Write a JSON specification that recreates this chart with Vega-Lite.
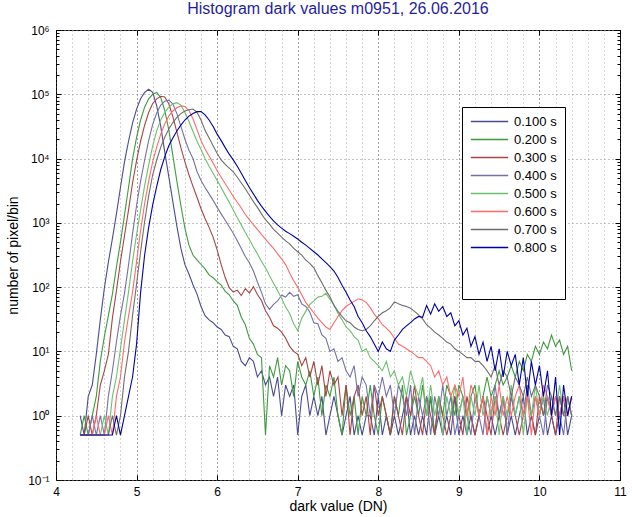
{
"$schema": "https://vega.github.io/schema/vega-lite/v6.json",
"width": 564, "height": 450,
"autosize": {"type": "none"},
"padding": {"left": 56, "top": 30, "right": 12, "bottom": 37},
"background": "white",
"config": {"font": "Liberation Sans", "view": {"stroke": "#000", "strokeWidth": 1}},
"title": {"text": "Histogram dark values m0951, 26.06.2016", "fontSize": 16, "fontWeight": "normal", "color": "#1f1f9f", "offset": 7, "font": "Liberation Sans"},
"data": {"values": [
{"x":4.30,"a":1,"b":0.5,"c":0.5,"d":0.5,"e":0.5,"f":0.5,"g":0.5,"h":0.5},
{"x":4.35,"a":0.5,"b":1,"c":0.5,"d":0.5,"e":0.5,"f":0.5,"g":0.5,"h":0.5},
{"x":4.40,"a":2,"b":0.5,"c":1,"d":0.5,"e":0.5,"f":0.5,"g":0.5,"h":0.5},
{"x":4.45,"a":3,"b":1,"c":0.5,"d":1,"e":0.5,"f":0.5,"g":0.5,"h":0.5},
{"x":4.50,"a":9,"b":2,"c":1,"d":0.5,"e":0.5,"f":1,"g":0.5,"h":0.5},
{"x":4.55,"a":31,"b":7,"c":3,"d":1,"e":0.5,"f":0.5,"g":0.5,"h":0.5},
{"x":4.60,"a":96,"b":17,"c":5,"d":0.5,"e":1,"f":0.5,"g":0.5,"h":0.5},
{"x":4.65,"a":245,"b":36,"c":9,"d":2,"e":0.5,"f":1,"g":0.5,"h":0.5},
{"x":4.70,"a":570,"b":78,"c":33,"d":5,"e":2,"f":0.5,"g":1,"h":0.5},
{"x":4.75,"a":1380,"b":205,"c":88,"d":14,"e":4,"f":2,"g":0.5,"h":1},
{"x":4.80,"a":3550,"b":500,"c":250,"d":36,"e":11,"f":4,"g":1,"h":0.5},
{"x":4.85,"a":8900,"b":1320,"c":630,"d":80,"e":31,"f":14,"g":4,"h":1},
{"x":4.90,"a":18600,"b":3550,"c":1580,"d":220,"e":84,"f":35,"g":10,"h":2},
{"x":4.95,"a":35500,"b":9800,"c":4170,"d":680,"e":250,"f":83,"g":36,"h":4},
{"x":5.00,"a":58900,"b":21400,"c":9300,"d":1860,"e":660,"f":250,"g":112,"h":13},
{"x":5.05,"a":85000,"b":39800,"c":18600,"d":4470,"e":1580,"f":760,"g":355,"h":83},
{"x":5.10,"a":107000,"b":63000,"c":33000,"d":9500,"e":3800,"f":2000,"g":1050,"h":316},
{"x":5.15,"a":120000,"b":85000,"c":52000,"d":19000,"e":7900,"f":4470,"g":2630,"h":850},
{"x":5.20,"a":107000,"b":100000,"c":72000,"d":34000,"e":15800,"f":8900,"g":5600,"h":1900},
{"x":5.25,"a":66000,"b":107000,"c":85000,"d":51000,"e":27000,"f":15100,"g":9500,"h":3700},
{"x":5.30,"a":31600,"b":89000,"c":93000,"d":68000,"e":40000,"f":24000,"g":15100,"h":6760},
{"x":5.35,"a":12600,"b":56000,"c":91000,"d":78000,"e":52000,"f":34700,"g":21400,"h":10700},
{"x":5.40,"a":5250,"b":28000,"c":71000,"d":81000,"e":63000,"f":45700,"g":28800,"h":15800},
{"x":5.45,"a":2140,"b":11200,"c":45000,"d":71000,"e":71000,"f":55000,"g":36300,"h":20900},
{"x":5.50,"a":890,"b":4470,"c":26000,"d":50000,"e":74000,"f":61700,"g":43600,"h":26900},
{"x":5.55,"a":400,"b":1860,"c":14800,"d":31600,"e":68000,"f":66000,"g":50000,"h":33100},
{"x":5.60,"a":224,"b":830,"c":8900,"d":20000,"e":52000,"f":64600,"g":55000,"h":39800},
{"x":5.65,"a":160,"b":450,"c":5600,"d":13500,"e":38000,"f":56000,"g":57500,"h":45700},
{"x":5.70,"a":109,"b":316,"c":3700,"d":10000,"e":26300,"f":41700,"g":58900,"h":50100},
{"x":5.75,"a":78,"b":265,"c":2500,"d":6300,"e":18600,"f":28200,"g":52500,"h":53700},
{"x":5.80,"a":50,"b":225,"c":1660,"d":4570,"e":13800,"f":19000,"g":39800,"h":53700},
{"x":5.85,"a":36,"b":192,"c":1170,"d":3550,"e":10000,"f":14100,"g":27500,"h":47900},
{"x":5.90,"a":31,"b":155,"c":850,"d":2820,"e":7600,"f":11000,"g":20900,"h":39800},
{"x":5.95,"a":28,"b":140,"c":600,"d":2240,"e":5900,"f":8500,"g":15800,"h":31600},
{"x":6.00,"a":24,"b":122,"c":380,"d":1740,"e":4570,"f":6460,"g":12000,"h":24000},
{"x":6.05,"a":22,"b":108,"c":224,"d":1380,"e":3550,"f":5130,"g":9550,"h":19000},
{"x":6.10,"a":18,"b":86,"c":141,"d":1100,"e":2700,"f":4070,"g":8100,"h":14800},
{"x":6.15,"a":17,"b":76,"c":98,"d":870,"e":2090,"f":3240,"g":7100,"h":11700},
{"x":6.20,"a":12,"b":61,"c":84,"d":690,"e":1580,"f":2570,"g":6200,"h":9550},
{"x":6.25,"a":11,"b":52,"c":90,"d":525,"e":1200,"f":2090,"g":5130,"h":7590},
{"x":6.30,"a":7,"b":34,"c":74,"d":400,"e":930,"f":1700,"g":4170,"h":5890},
{"x":6.35,"a":6,"b":26,"c":95,"d":300,"e":710,"f":1350,"g":3390,"h":4570},
{"x":6.40,"a":8,"b":16,"c":81,"d":240,"e":550,"f":1120,"g":2690,"h":3550},
{"x":6.45,"a":7,"b":13,"c":102,"d":178,"e":420,"f":930,"g":2140,"h":2820},
{"x":6.50,"a":4,"b":9,"c":77,"d":120,"e":330,"f":790,"g":1740,"h":2240},
{"x":6.55,"a":5,"b":8,"c":62,"d":83,"e":250,"f":660,"g":1380,"h":1820},
{"x":6.60,"a":3,"b":0.5,"c":43,"d":55,"e":200,"f":560,"g":1120,"h":1510},
{"x":6.65,"a":4,"b":6,"c":34,"d":45,"e":150,"f":470,"g":955,"h":1260},
{"x":6.70,"a":2,"b":4,"c":25,"d":54,"e":115,"f":400,"g":790,"h":1070},
{"x":6.75,"a":4,"b":8,"c":23,"d":61,"e":88,"f":330,"g":690,"h":930},
{"x":6.80,"a":1,"b":3,"c":20,"d":75,"e":67,"f":275,"g":600,"h":830},
{"x":6.85,"a":3,"b":6,"c":16,"d":70,"e":49,"f":224,"g":525,"h":740},
{"x":6.90,"a":2,"b":5,"c":12,"d":83,"e":39,"f":166,"g":470,"h":680},
{"x":6.95,"a":3,"b":2,"c":10,"d":72,"e":27,"f":126,"g":400,"h":620},
{"x":7.00,"a":0.5,"b":7,"c":9,"d":76,"e":21,"f":100,"g":355,"h":560},
{"x":7.05,"a":2,"b":4,"c":6,"d":55,"e":33,"f":76,"g":316,"h":500},
{"x":7.10,"a":3,"b":3,"c":8,"d":50,"e":42,"f":58,"g":263,"h":450},
{"x":7.15,"a":1,"b":5,"c":4,"d":41,"e":54,"f":48,"g":234,"h":400},
{"x":7.20,"a":2,"b":2,"c":7,"d":28,"e":61,"f":40,"g":200,"h":355},
{"x":7.25,"a":1,"b":4,"c":3,"d":27,"e":70,"f":33,"g":151,"h":316},
{"x":7.30,"a":2,"b":1,"c":6,"d":18,"e":72,"f":28,"g":117,"h":275},
{"x":7.35,"a":0.5,"b":3,"c":2,"d":16,"e":80,"f":24,"g":89,"h":240},
{"x":7.40,"a":1,"b":2,"c":5,"d":10,"e":65,"f":22,"g":71,"h":209},
{"x":7.45,"a":2,"b":4,"c":3,"d":11,"e":53,"f":28,"g":52,"h":178},
{"x":7.50,"a":1,"b":1,"c":4,"d":7,"e":39,"f":35,"g":42,"h":141},
{"x":7.55,"a":0.5,"b":0.5,"c":1,"d":8,"e":31,"f":43,"g":35,"h":107},
{"x":7.60,"a":1,"b":3,"c":3,"d":5,"e":24,"f":50,"g":30,"h":83},
{"x":7.65,"a":2,"b":1,"c":0.5,"d":4,"e":21,"f":55,"g":28,"h":63},
{"x":7.70,"a":0.5,"b":2,"c":2,"d":6,"e":17,"f":60,"g":24,"h":50},
{"x":7.75,"a":1,"b":0.5,"c":3,"d":2,"e":15,"f":66,"g":22,"h":35},
{"x":7.80,"a":0.5,"b":2,"c":1,"d":4,"e":10,"f":63,"g":21,"h":28},
{"x":7.85,"a":1,"b":1,"c":2,"d":3,"e":11,"f":58,"g":22,"h":21},
{"x":7.90,"a":1,"b":3,"c":0.5,"d":1,"e":8,"f":48,"g":25,"h":17},
{"x":7.95,"a":0.5,"b":1,"c":3,"d":3,"e":7,"f":38,"g":30,"h":13},
{"x":8.00,"a":2,"b":0.5,"c":1,"d":2,"e":6,"f":32,"g":35,"h":10},
{"x":8.05,"a":0.5,"b":2,"c":2,"d":4,"e":5,"f":26,"g":40,"h":14},
{"x":8.10,"a":1,"b":1,"c":1,"d":2,"e":7,"f":23,"g":43,"h":11},
{"x":8.15,"a":0.5,"b":0.5,"c":0.5,"d":3,"e":4,"f":20,"g":48,"h":10},
{"x":8.20,"a":1,"b":2,"c":2,"d":1,"e":5,"f":16,"g":59,"h":15},
{"x":8.25,"a":0.5,"b":1,"c":1,"d":3,"e":3,"f":13,"g":55,"h":18},
{"x":8.30,"a":1,"b":3,"c":0.5,"d":2,"e":4,"f":12,"g":52,"h":22},
{"x":8.35,"a":2,"b":0.5,"c":2,"d":1,"e":2,"f":11,"g":50,"h":25},
{"x":8.40,"a":0.5,"b":1,"c":1,"d":3,"e":5,"f":10,"g":47,"h":28},
{"x":8.45,"a":1,"b":2,"c":3,"d":0.5,"e":3,"f":9,"g":42,"h":32},
{"x":8.50,"a":0.5,"b":1,"c":1,"d":2,"e":2,"f":8,"g":37,"h":35},
{"x":8.55,"a":1,"b":3,"c":0.5,"d":1,"e":4,"f":8,"g":32,"h":34},
{"x":8.60,"a":0.5,"b":1,"c":2,"d":2,"e":1,"f":7,"g":26,"h":52},
{"x":8.65,"a":2,"b":2,"c":1,"d":0.5,"e":3,"f":6,"g":23,"h":38},
{"x":8.70,"a":0.5,"b":0.5,"c":0.5,"d":2,"e":1,"f":4,"g":20,"h":55},
{"x":8.75,"a":1,"b":2,"c":2,"d":1,"e":2,"f":5,"g":18,"h":42},
{"x":8.80,"a":0.5,"b":1,"c":1,"d":3,"e":0.5,"f":3,"g":16,"h":50},
{"x":8.85,"a":1,"b":3,"c":0.5,"d":1,"e":2,"f":4,"g":14,"h":35},
{"x":8.90,"a":0.5,"b":2,"c":1,"d":2,"e":1,"f":2,"g":13,"h":40},
{"x":8.95,"a":2,"b":1,"c":2,"d":0.5,"e":3,"f":3,"g":11,"h":25},
{"x":9.00,"a":0.5,"b":3,"c":1,"d":1,"e":1,"f":2,"g":10,"h":30},
{"x":9.05,"a":1,"b":2,"c":0.5,"d":2,"e":2,"f":4,"g":9,"h":18},
{"x":9.10,"a":0.5,"b":1,"c":2,"d":1,"e":0.5,"f":1,"g":8,"h":23},
{"x":9.15,"a":1,"b":2,"c":1,"d":0.5,"e":2,"f":3,"g":8,"h":12},
{"x":9.20,"a":0.5,"b":3,"c":0.5,"d":2,"e":1,"f":2,"g":7,"h":17},
{"x":9.25,"a":1,"b":1,"c":1,"d":1,"e":3,"f":1,"g":7,"h":9},
{"x":9.30,"a":2,"b":2,"c":2,"d":0.5,"e":1,"f":2,"g":6,"h":14},
{"x":9.35,"a":0.5,"b":4,"c":1,"d":2,"e":2,"f":0.5,"g":5,"h":7},
{"x":9.40,"a":1,"b":2,"c":0.5,"d":1,"e":1,"f":2,"g":4,"h":12},
{"x":9.45,"a":0.5,"b":3,"c":2,"d":3,"e":2,"f":1,"g":6,"h":5},
{"x":9.50,"a":1,"b":5,"c":1,"d":1,"e":0.5,"f":3,"g":3,"h":11},
{"x":9.55,"a":2,"b":3,"c":0.5,"d":2,"e":2,"f":1,"g":5,"h":4},
{"x":9.60,"a":0.5,"b":4,"c":1,"d":0.5,"e":1,"f":2,"g":4,"h":10},
{"x":9.65,"a":1,"b":6,"c":2,"d":2,"e":3,"f":1,"g":2,"h":6},
{"x":9.70,"a":0.5,"b":4,"c":1,"d":1,"e":1,"f":2,"g":4,"h":9},
{"x":9.75,"a":1,"b":7,"c":0.5,"d":2,"e":2,"f":3,"g":3,"h":3},
{"x":9.80,"a":2,"b":5,"c":1,"d":1,"e":0.5,"f":1,"g":2,"h":8},
{"x":9.85,"a":0.5,"b":9,"c":2,"d":3,"e":2,"f":2,"g":4,"h":2},
{"x":9.90,"a":1,"b":7,"c":1,"d":1,"e":1,"f":0.5,"g":2,"h":7},
{"x":9.95,"a":0.5,"b":12,"c":0.5,"d":2,"e":3,"f":2,"g":3,"h":3},
{"x":10.00,"a":1,"b":9,"c":2,"d":1,"e":1,"f":1,"g":2,"h":6},
{"x":10.05,"a":2,"b":14,"c":1,"d":0.5,"e":2,"f":3,"g":1,"h":2},
{"x":10.10,"a":0.5,"b":11,"c":2,"d":2,"e":1,"f":2,"g":3,"h":5},
{"x":10.15,"a":1,"b":18,"c":1,"d":1,"e":2,"f":1,"g":2,"h":1},
{"x":10.20,"a":0.5,"b":12,"c":0.5,"d":2,"e":1,"f":2,"g":1,"h":4},
{"x":10.25,"a":1,"b":15,"c":2,"d":1,"e":3,"f":1,"g":2,"h":0.5},
{"x":10.30,"a":2,"b":9,"c":1,"d":0.5,"e":1,"f":2,"g":1,"h":3},
{"x":10.35,"a":0.5,"b":12,"c":1,"d":2,"e":2,"f":1,"g":2,"h":1},
{"x":10.40,"a":1,"b":5,"c":2,"d":1,"e":1,"f":2,"g":1,"h":2}
]},
"transform": [{"fold": ["a","b","c","d","e","f","g","h"], "as": ["series","count"]}],
"layer": [
{"mark": {"type": "line", "strokeWidth": 1.1},
 "encoding": {
  "x": {"field": "x", "type": "quantitative",
        "scale": {"domain": [4, 11], "nice": false, "zero": false},
        "axis": {"values": [4,4.2,4.4,4.6,4.8,5,5.2,5.4,5.6,5.8,6,6.2,6.4,6.6,6.8,7,7.2,7.4,7.6,7.8,8,8.2,8.4,8.6,8.8,9,9.2,9.4,9.6,9.8,10,10.2,10.4,10.6,10.8,11],
                 "labelExpr": "datum.value == round(datum.value) ? format(datum.value, 'd') : ''",
                 "title": "dark value (DN)", "titleFontSize": 14, "titleFontWeight": "normal", "titleColor": "#000", "titlePadding": 2,
                 "labelFontSize": 12, "labelColor": "#000", "labelPadding": 11, "labelFlush": false, "labelOverlap": false,
                 "tickSize": -5, "tickColor": "#000",
                 "tickOpacity": {"condition": {"test": "datum.value == round(datum.value)", "value": 1}, "value": 0},
                 "grid": true, "gridDash": [1, 3], "gridWidth": 1,
                 "gridColor": {"condition": {"test": "datum.value == round(datum.value)", "value": "#444"}, "value": "#aaa"},
                 "domain": false}},
  "y": {"field": "count", "type": "quantitative",
        "scale": {"type": "log", "domain": [0.1, 1000000], "nice": false},
        "axis": {"values": [0.1,0.2,0.3,0.4,0.5,0.6,0.7,0.8,0.9,1,2,3,4,5,6,7,8,9,10,20,30,40,50,60,70,80,90,100,200,300,400,500,600,700,800,900,1000,2000,3000,4000,5000,6000,7000,8000,9000,10000,20000,30000,40000,50000,60000,70000,80000,90000,100000,200000,300000,400000,500000,600000,700000,800000,900000,1000000],
                 "labelExpr": "abs(log(datum.value)/LN10 - round(log(datum.value)/LN10)) < 0.001 ? '10' + ['⁻¹','⁰','¹','²','³','⁴','⁵','⁶'][round(log(datum.value)/LN10) + 1] : ''",
                 "title": "number of pixel/bin", "titleFontSize": 14, "titleFontWeight": "normal", "titleColor": "#000", "titlePadding": 7,
                 "labelFontSize": 12, "labelColor": "#000", "labelPadding": 12, "labelFlush": false, "labelOverlap": false,
                 "tickSize": {"condition": {"test": "abs(log(datum.value)/LN10 - round(log(datum.value)/LN10)) < 0.001", "value": -5}, "value": -3},
                 "tickColor": "#000",
                 "grid": true, "gridDash": [1, 3], "gridColor": "#888",
                 "gridOpacity": {"condition": {"test": "abs(log(datum.value)/LN10 - round(log(datum.value)/LN10)) < 0.001", "value": 1}, "value": 0},
                 "domain": false}},
  "color": {"field": "series", "type": "nominal",
            "scale": {"domain": ["a","b","c","d","e","f","g","h"],
                      "range": ["#4b4b8f","#3f9a3f","#a84444","#7272a8","#6cc06c","#ff6a6a","#6e6e6e","#0000a8"]},
            "legend": {"orient": "none", "legendX": 406, "legendY": 77,
                       "title": " ", "titleOrient": "bottom", "titleFontSize": 34, "titlePadding": 2,
                       "strokeColor": "#000", "fillColor": "#fff", "padding": 8,
                       "symbolType": "stroke", "symbolSize": 1400, "symbolStrokeWidth": 1.5,
                       "labelFontSize": 13, "labelColor": "#000", "labelOffset": 5,
                       "clipHeight": 13, "rowPadding": 4,
                       "labelExpr": "datum.label == 'a' ? '0.100 s' : datum.label == 'b' ? '0.200 s' : datum.label == 'c' ? '0.300 s' : datum.label == 'd' ? '0.400 s' : datum.label == 'e' ? '0.500 s' : datum.label == 'f' ? '0.600 s' : datum.label == 'g' ? '0.700 s' : '0.800 s'"}}
 }},
{"mark": {"type": "point", "opacity": 0},
 "encoding": {
  "x": {"field": "x", "type": "quantitative",
        "axis": {"orient": "top", "values": [4,5,6,7,8,9,10,11], "labels": false, "title": null, "tickSize": -5, "tickColor": "#000", "grid": false, "domain": false}},
  "y": {"field": "count", "type": "quantitative",
        "axis": {"orient": "right", "values": [0.1,0.2,0.3,0.4,0.5,0.6,0.7,0.8,0.9,1,2,3,4,5,6,7,8,9,10,20,30,40,50,60,70,80,90,100,200,300,400,500,600,700,800,900,1000,2000,3000,4000,5000,6000,7000,8000,9000,10000,20000,30000,40000,50000,60000,70000,80000,90000,100000,200000,300000,400000,500000,600000,700000,800000,900000,1000000],
                 "labels": false, "title": null, "tickColor": "#000", "grid": false, "domain": false,
                 "tickSize": {"condition": {"test": "abs(log(datum.value)/LN10 - round(log(datum.value)/LN10)) < 0.001", "value": -5}, "value": -3}}}
 }}
],
"resolve": {"axis": {"x": "independent", "y": "independent"}}
}
